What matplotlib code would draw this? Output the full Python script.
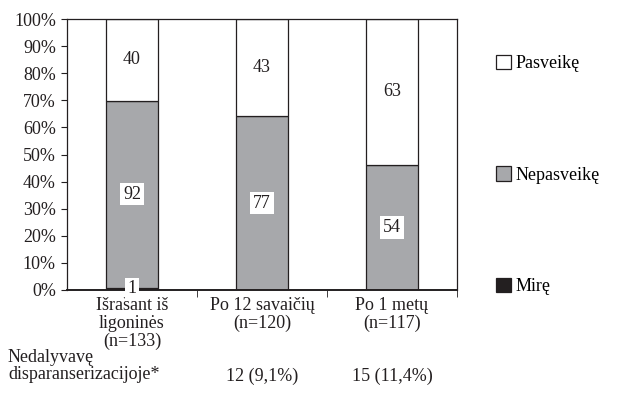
import matplotlib
matplotlib.use("Agg")
import matplotlib.pyplot as plt
from matplotlib.patches import Patch
import numpy as np

plt.rcParams['font.family'] = ['Liberation Serif', 'DejaVu Serif']

categories = ["Išrašant iš\nligoninės\n(n=133)", "Po 12 savaičių\n(n=120)", "Po 1 metų\n(n=117)"]
mire = [1, 0, 0]
nepasveike = [92, 77, 54]
pasveike = [40, 43, 63]
series_names = ["Mirę", "Nepasveikę", "Pasveikę"]
series_colors = ["#231f20", "#a7a8ab", "#ffffff"]
row_label = "Nedalyvavę\ndisparanserizacijoje*"
row_values = ["", "12 (9,1%)", "15 (11,4%)"]

counts = np.array([mire, nepasveike, pasveike], dtype=float)
totals = counts.sum(axis=0)
shares = counts / totals * 100

fig = plt.figure(figsize=(6.17, 4.12), dpi=100)
ax = fig.add_axes([67/617, 1 - 290/412, 390/617, 271/412])

x = np.arange(len(categories))
bottom = np.zeros(len(categories))
fs = 13
for i, (name, col) in enumerate(zip(series_names, series_colors)):
    ax.bar(x, shares[i], 0.4, bottom=bottom, color=col, edgecolor="#231f20",
           linewidth=0.9, label=name, zorder=2)
    for j in range(len(categories)):
        if counts[i, j] > 0:
            yc = bottom[j] + shares[i, j] / 2
            box = None if i == 2 else dict(facecolor="white", edgecolor="none", pad=2)
            ax.text(x[j], yc, f"{int(counts[i, j])}", ha="center", va="center",
                    fontsize=fs, color="#231f20", bbox=box, zorder=3)
    bottom += shares[i]

ax.set_xlim(-0.5, 2.5)
ax.set_ylim(0, 100)
ax.set_yticks(np.arange(0, 101, 10))
ax.set_yticklabels([f"{v}%" for v in range(0, 101, 10)], fontsize=fs, color="#231f20")
ax.set_xticks(x)
ax.set_xticklabels(categories, fontsize=fs, color="#231f20", linespacing=1.05)
ax.tick_params(axis="x", length=0, pad=5)
ax.set_xticks([0.5, 1.5, 2.5], minor=True)
ax.tick_params(axis="x", which="minor", length=5, direction="out", color="#231f20")
ax.tick_params(axis="y", length=4, direction="out", color="#231f20", pad=4)
for s in ax.spines.values():
    s.set_color("#231f20")
    s.set_linewidth(0.9)
ax.spines["bottom"].set_linewidth(1.4)

handles = [Patch(facecolor=series_colors[k], edgecolor="#231f20", linewidth=0.9, label=series_names[k])
           for k in (2, 1, 0)]
fig.legend(handles=handles, loc="upper left", bbox_to_anchor=(496/617, 1 - 55/412),
           frameon=False, fontsize=fs, handlelength=0.85, handleheight=0.85,
           handletextpad=0.25, labelspacing=5.2, borderaxespad=0, borderpad=0)

fig.text(8/617, 1 - 366/412, row_label, fontsize=fs, color="#231f20",
         ha="left", va="center", linespacing=1.0)
for j, txt in enumerate(row_values):
    if txt:
        xf = (67 + (x[j] + 0.5) * 130) / 617
        fig.text(xf, 1 - 376/412, txt, fontsize=fs, color="#231f20", ha="center", va="center")

fig.savefig("out.png", dpi=100)
